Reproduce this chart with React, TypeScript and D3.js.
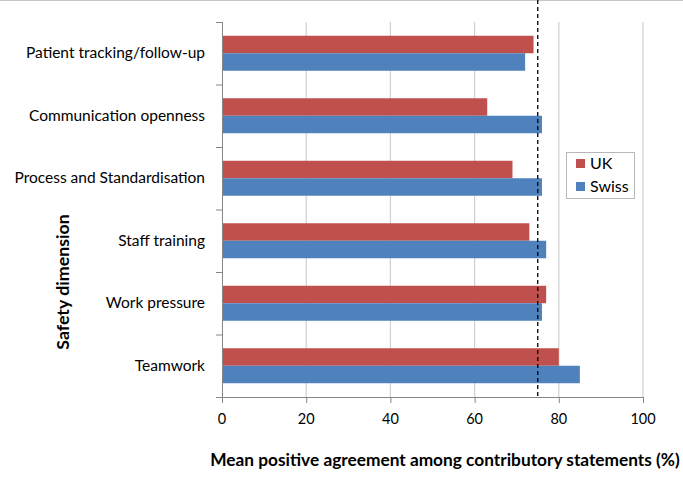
import React, { useEffect, useRef } from 'react';
import * as d3 from 'd3';

const categories = [
  'Patient tracking/follow-up',
  'Communication openness',
  'Process and Standardisation',
  'Staff training',
  'Work pressure',
  'Teamwork',
];
const series = ['UK', 'Swiss'];
const ukValues = [74, 63, 69, 73, 77, 80];
const swissValues = [72, 76, 76, 77, 76, 85];
const xTicks = [0, 20, 40, 60, 80, 100];
const benchmark = 75;

const colors: Record<string, string> = { UK: '#C0504D', Swiss: '#4F81BD' };
const FONT = 'Lato, "Open Sans", sans-serif';

export default function App() {
  const svgRef = useRef<SVGSVGElement>(null);

  useEffect(() => {
    if (!svgRef.current) return;
    const svg = d3.select(svgRef.current);
    svg.selectAll('*').remove();

    const W = 683;
    const H = 479;
    const plot = { left: 222, right: 643, top: 22, bottom: 397 };

    const x = d3.scaleLinear().domain([0, 100]).range([plot.left, plot.right]);
    const y = d3.scaleBand<string>().domain(categories).range([plot.top, plot.bottom]);
    const sub = d3.scaleBand<string>().domain(series).range([0, y.bandwidth()]).paddingOuter(0.786);

    svg.append('rect').attr('width', W).attr('height', H).attr('fill', '#fff');
    svg.append('line')
      .attr('x1', 0).attr('x2', W).attr('y1', 0.5).attr('y2', 0.5)
      .attr('stroke', '#c8c8c8');

    // Grid lines
    svg.append('g')
      .selectAll('line')
      .data(xTicks.slice(1))
      .join('line')
      .attr('x1', d => x(d)).attr('x2', d => x(d))
      .attr('y1', plot.top).attr('y2', plot.bottom)
      .attr('stroke', '#d0d0d0')
      .attr('stroke-width', 1.2);

    // Bars
    const rows = categories.map((c, i) => ({ c, UK: ukValues[i], Swiss: swissValues[i] }));
    const g = svg.append('g');
    rows.forEach(r => {
      series.forEach(s => {
        g.append('rect')
          .attr('x', x(0))
          .attr('y', (y(r.c) as number) + (sub(s) as number))
          .attr('width', x((r as any)[s]) - x(0))
          .attr('height', sub.bandwidth())
          .attr('fill', colors[s]);
      });
    });

    // Axes
    const axisColor = '#868686';
    svg.append('line')
      .attr('x1', plot.left + 0.5).attr('x2', plot.left + 0.5)
      .attr('y1', plot.top).attr('y2', plot.bottom)
      .attr('stroke', axisColor);
    svg.append('line')
      .attr('x1', plot.left - 6).attr('x2', plot.right)
      .attr('y1', plot.bottom + 0.5).attr('y2', plot.bottom + 0.5)
      .attr('stroke', axisColor);

    const boundaries = categories.map(c => y(c) as number);
    svg.append('g')
      .selectAll('line')
      .data(boundaries)
      .join('line')
      .attr('x1', plot.left - 6).attr('x2', plot.left)
      .attr('y1', d => d + 0.5).attr('y2', d => d + 0.5)
      .attr('stroke', axisColor);

    svg.append('g')
      .selectAll('line')
      .data(xTicks)
      .join('line')
      .attr('x1', d => x(d) + 0.5).attr('x2', d => x(d) + 0.5)
      .attr('y1', plot.bottom).attr('y2', plot.bottom + 6)
      .attr('stroke', axisColor);

    svg.append('g')
      .selectAll('text')
      .data(xTicks)
      .join('text')
      .attr('x', d => x(d))
      .attr('y', 424)
      .attr('text-anchor', 'middle')
      .attr('font-family', FONT)
      .attr('font-size', 14.5)
      .attr('fill', '#000')
      .text(d => d);

    svg.append('g')
      .selectAll('text')
      .data(categories)
      .join('text')
      .attr('x', 205)
      .attr('y', c => (y(c) as number) + y.bandwidth() / 2 + 5)
      .attr('text-anchor', 'end')
      .attr('font-family', FONT)
      .attr('font-size', 15.5)
      .attr('fill', '#000')
      .text(c => c);

    // Benchmark line
    svg.append('line')
      .attr('x1', x(benchmark)).attr('x2', x(benchmark))
      .attr('y1', 0).attr('y2', plot.bottom)
      .attr('stroke', '#000')
      .attr('stroke-width', 1.3)
      .attr('stroke-dasharray', '4,3');

    // Legend
    const lg = svg.append('g');
    lg.append('rect')
      .attr('x', 566.5).attr('y', 152.5).attr('width', 68).attr('height', 46)
      .attr('fill', '#fff').attr('stroke', '#b8b8b8');
    series.forEach((s, i) => {
      lg.append('rect')
        .attr('x', 576).attr('y', 159 + i * 23).attr('width', 9).attr('height', 9)
        .attr('fill', colors[s]);
      lg.append('text')
        .attr('x', 590).attr('y', 169 + i * 23)
        .attr('font-family', FONT).attr('font-size', 16)
        .text(s);
    });

    // Titles
    svg.append('text')
      .attr('x', 445).attr('y', 466)
      .attr('text-anchor', 'middle')
      .attr('font-family', FONT).attr('font-size', 17.3).attr('font-weight', 'bold')
      .text('Mean positive agreement among contributory statements (%)');

    svg.append('text')
      .attr('transform', 'translate(69,282) rotate(-90)')
      .attr('text-anchor', 'middle')
      .attr('font-family', FONT).attr('font-size', 17.8).attr('font-weight', 'bold')
      .text('Safety dimension');
  }, []);

  return (
    <svg
      ref={svgRef}
      width="683"
      height="479"
      style={{ position: 'absolute', left: 0, top: 0, display: 'block' }}
    />
  );
}
